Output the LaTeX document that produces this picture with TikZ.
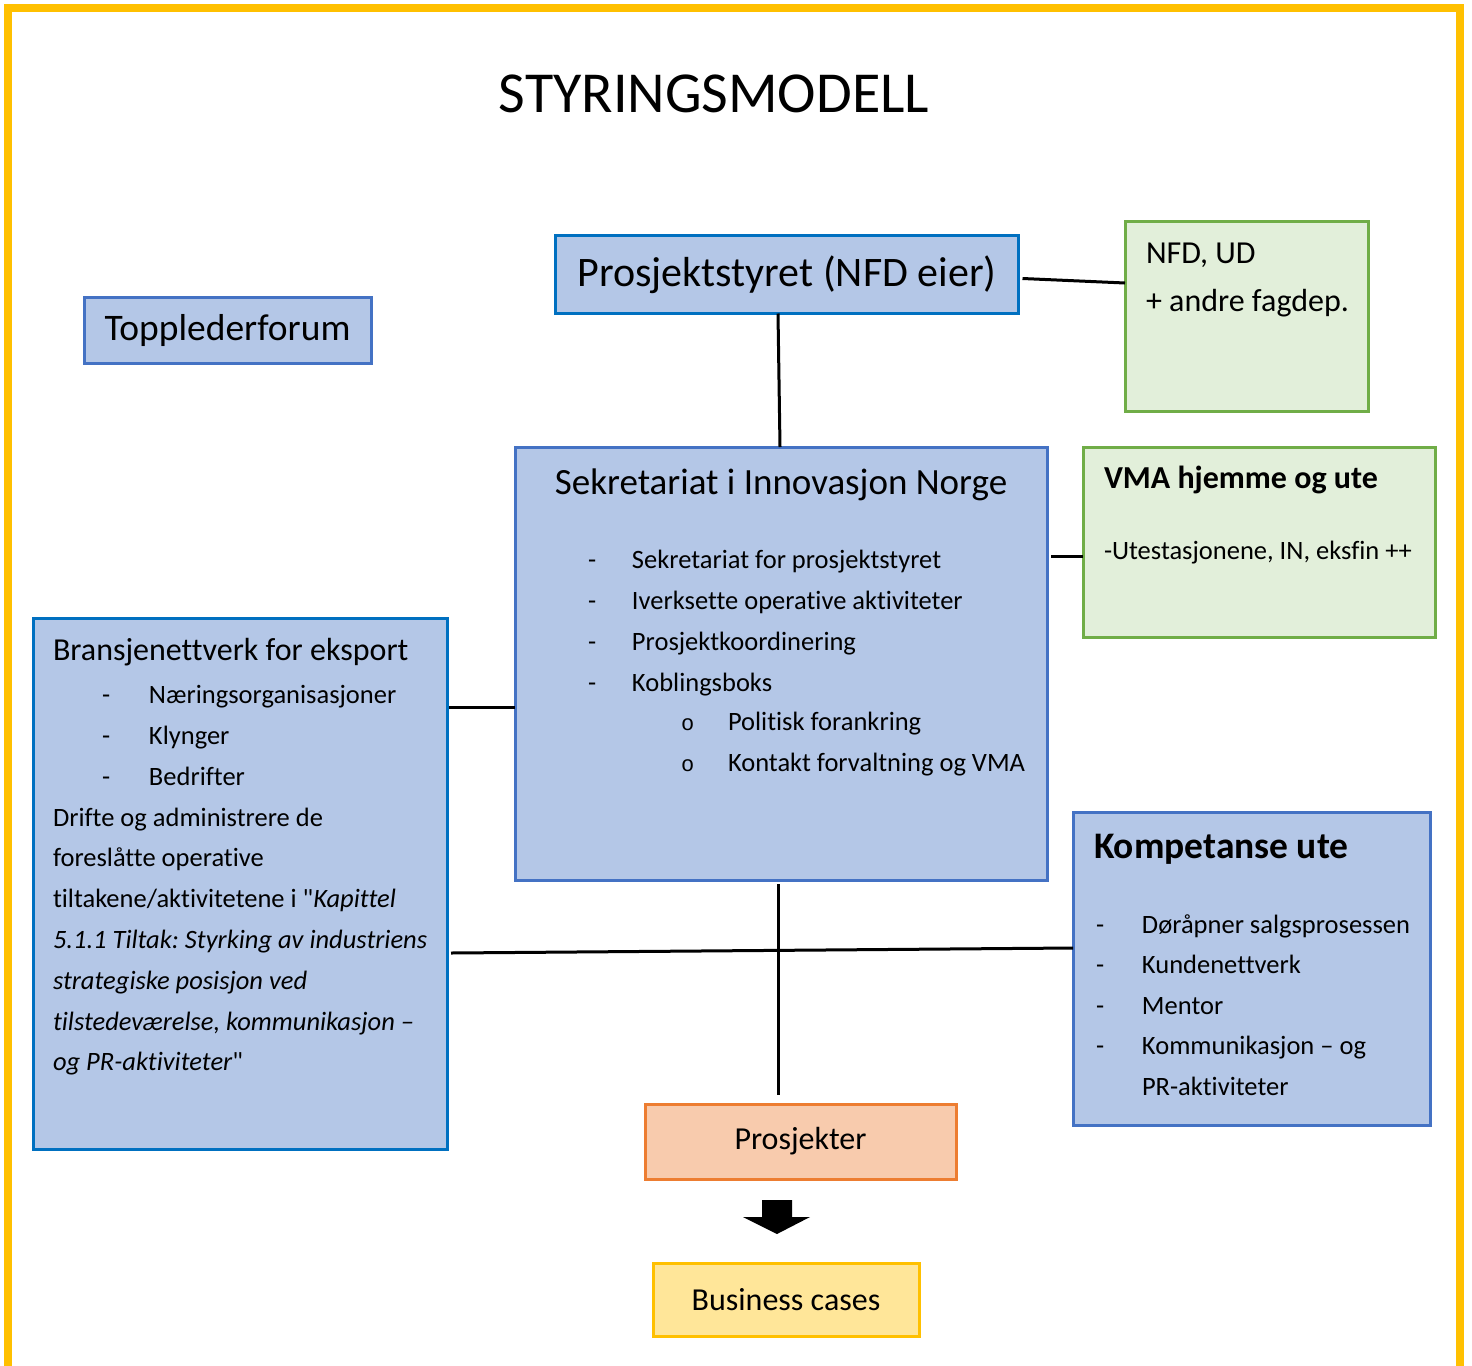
\documentclass[tikz,border=0pt]{standalone}
\usepackage{fontspec}
\setmainfont{Carlito}[Ligatures={TeXOff,CommonOff}]
\newfontfamily\monof{Liberation Mono}
\frenchspacing
\definecolor{bfill}{HTML}{B4C7E7}
\definecolor{bdark}{HTML}{0070C0}
\definecolor{bmid}{HTML}{4472C4}
\definecolor{gline}{HTML}{70AD47}
\definecolor{gfill}{HTML}{E2EFDA}
\definecolor{oline}{HTML}{ED7D31}
\definecolor{ofill}{HTML}{F8CBAD}
\definecolor{yline}{HTML}{FFC000}
\definecolor{yfill}{HTML}{FFE699}
\newcommand{\fs}[1]{\fontsize{#1}{#1}\selectfont}
\begin{document}
\begin{tikzpicture}[x=1pt,y=-1pt,
  boxbase/.style={rectangle, line width=3pt, anchor=north west, inner sep=0pt, outer sep=0pt},
  bluedark/.style={boxbase, draw=bdark, fill=bfill},
  bluemid/.style={boxbase, draw=bmid, fill=bfill},
  greenbox/.style={boxbase, draw=gline, fill=gfill},
  orangebox/.style={boxbase, draw=oline, fill=ofill},
  yellowbox/.style={boxbase, draw=yline, fill=yfill},
  txt/.style={anchor=mid west, inner sep=0pt, outer sep=0pt},
  body/.style={txt, font=\fs{26.5}},
  conn/.style={line width=3pt, black}]
\useasboundingbox (0,0) rectangle (1472,1365);
% frame
\draw[yline, line width=8pt] (8,1370) -- (8,8) -- (1460,8) -- (1460,1370);
% title
\node[anchor=base, inner sep=0pt, font=\fs{58}] (title) at (714,112) {STYRINGSMODELL};
% boxes
\node[bluedark, minimum width=463pt, minimum height=78pt, font=\fs{42}] (ps) at (555.5,235.5) {Prosjektstyret (NFD eier)};
\node[bluemid, minimum width=287pt, minimum height=66pt, font=\fs{37.5}] (tf) at (84,297) {Topplederforum};
\node[greenbox, minimum width=243pt, minimum height=190pt] (nfd) at (1125,221) {};
\node[bluemid, minimum width=532pt, minimum height=433pt] (sek) at (515,447) {};
\node[greenbox, minimum width=352pt, minimum height=190pt] (vma) at (1083,447) {};
\node[bluedark, minimum width=414pt, minimum height=531pt] (bra) at (33,618) {};
\node[bluemid, minimum width=357pt, minimum height=313pt] (komp) at (1073,812) {};
\node[orangebox, minimum width=311pt, minimum height=75pt, font=\fs{32}] (proj) at (645,1104) {Prosjekter};
\node[yellowbox, minimum width=266pt, minimum height=73pt, font=\fs{32}] (bc) at (653,1263) {Business cases};
% NFD text
\node[txt, font=\fs{32}] (nfd1) at (1146,261) {NFD, UD};
\node[txt, font=\fs{32}] (nfd2) at (1146,309) {+ andre fagdep.};
% VMA text
\node[txt, font=\bfseries\fs{32}] (vma1) at (1104,486) {VMA hjemme og ute};
\node[txt, font=\fs{26.5}] (vma2) at (1104,557.6) {-Utestasjonene, IN, eksfin ++};
% Sekretariat
\node[anchor=mid, inner sep=0pt, font=\fs{37}] (sek0) at (781,492) {Sekretariat i Innovasjon Norge};
\foreach \t [count=\i] in {{Sekretariat for prosjektstyret},{Iverksette operative aktiviteter},{Prosjektkoordinering},{Koblingsboks}}
  \node[body] (sekd\i) at (588,{566.6+40.7*(\i-1)}) {\makebox[44pt][l]{-}\t};
\node[body] (seks1) at (681,728.6) {\makebox[47pt][l]{\monof\fs{22}o}Politisk forankring};
\node[body] (seks2) at (681,769.6) {\makebox[47pt][l]{\monof\fs{22}o}Kontakt forvaltning og VMA};
% Bransjenettverk
\node[txt, font=\fs{32}] (bra0) at (53,658) {Bransjenettverk for eksport};
\foreach \t [count=\i] in {{Næringsorganisasjoner},{Klynger},{Bedrifter}}
  \node[body] (brad\i) at (102,{701.6+40.6*(\i-1)}) {\makebox[47pt][l]{-}\t};
\node[body] (brap1) at (53,824.6) {Drifte og administrere de};
\node[body] (brap2) at (53,864.6) {foreslåtte operative};
\node[body] (brap3) at (53,905.6) {tiltakene/aktivitetene i "\textit{Kapittel}};
\node[body] (brap4) at (53,946.6) {\textit{5.1.1 Tiltak: Styrking av industriens}};
\node[body] (brap5) at (53,986.6) {\textit{strategiske posisjon ved}};
\node[body] (brap6) at (53,1027.6) {\textit{tilstedeværelse, kommunikasjon –}};
\node[body] (brap7) at (53,1067.6) {\textit{og PR-aktiviteter}"};
% Kompetanse
\node[txt, font=\bfseries\fs{37.5}] (komp0) at (1094,856) {Kompetanse ute};
\foreach \t [count=\i] in {{Døråpner salgsprosessen},{Kundenettverk},{Mentor},{Kommunikasjon – og}}
  \node[body] (kompd\i) at (1096,{930.6+40.6*(\i-1)}) {\makebox[46pt][l]{-}\t};
\node[body] (kompd5) at (1142,1092.6) {PR-aktiviteter};
% connectors
\draw[conn] ([xshift=-9pt]ps.south) -- ([xshift=-1pt]sek.north);
\draw[conn] ([xshift=4pt,yshift=-4pt]ps.east) -- ([yshift=33pt]nfd.west);
\draw[conn] ([xshift=4pt,yshift=107.5pt]sek.east) -- ([yshift=-14pt]vma.west);
\draw[conn] ([xshift=2pt,yshift=176.5pt]bra.east) -- ([yshift=-43.5pt]sek.west);
\draw[conn] ([xshift=4pt,yshift=-69.5pt]bra.east) -- ([yshift=20.5pt]komp.west);
\draw[conn] ([xshift=-3pt,yshift=-4pt]sek.south) -- ([xshift=-22.5pt,yshift=9pt]proj.north);
% block arrow
\fill[black] (762,1200) -- (792,1200) -- (792,1217) -- (810,1217) -- (777,1234) -- (743,1217) -- (762,1217) -- cycle;
\end{tikzpicture}
\end{document}
